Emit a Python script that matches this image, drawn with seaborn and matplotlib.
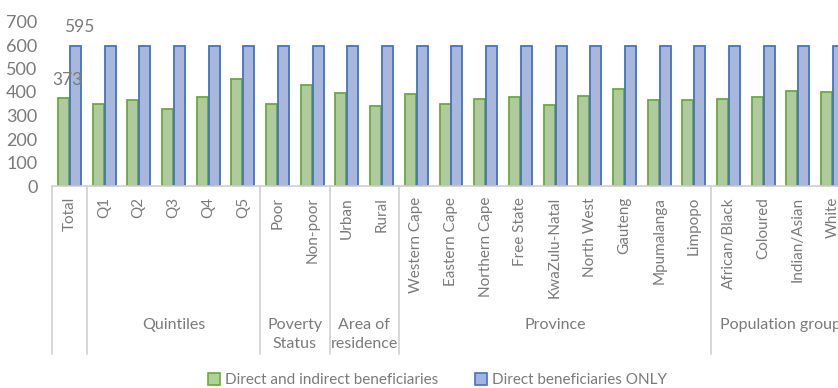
import matplotlib
matplotlib.use("Agg")
import matplotlib.pyplot as plt
import matplotlib.transforms as mtransforms
from matplotlib.patches import Patch
import seaborn as sns
import pandas as pd

categories = ["Total", "Q1", "Q2", "Q3", "Q4", "Q5", "Poor", "Non-poor",
              "Urban", "Rural", "Western Cape", "Eastern Cape", "Northern Cape",
              "Free State", "KwaZulu-Natal", "North West", "Gauteng",
              "Mpumalanga", "Limpopo", "African/Black", "Coloured",
              "Indian/Asian", "White"]
direct_indirect = [373, 349, 367, 326, 380, 457, 349, 430, 396, 340, 390, 349,
                   372, 380, 345, 383, 411, 365, 367, 372, 380, 403, 399]
direct_only = [595] * len(categories)
series_names = ["Direct and indirect beneficiaries", "Direct beneficiaries ONLY"]

# group name, first category index, number of categories
groups = [("", 0, 1), ("Quintiles", 1, 5), ("Poverty\nStatus", 6, 2),
          ("Area of\nresidence", 8, 2), ("Province", 10, 9),
          ("Population group", 19, 4)]

df = pd.DataFrame({
    "category": categories * 2,
    "value": direct_indirect + direct_only,
    "series": [series_names[0]] * len(categories) + [series_names[1]] * len(categories),
})

sns.set_theme(style="white")
plt.rcParams["font.family"] = ["Lato", "DejaVu Sans"]
text_grey = "#7a7a7a"
line_grey = "#d0d0d0"
green_fill, green_edge = "#add397", "#6aaa3c"
blue_fill, blue_edge = "#a1b4e2", "#4472c4"

fig = plt.figure(figsize=(8.38, 3.88), dpi=100)
ax = fig.add_axes([52 / 838, 1 - 186 / 388, 798 / 838, 164.5 / 388])

sns.barplot(data=df, x="category", y="value", hue="series", order=categories,
            hue_order=series_names, palette=[green_fill, blue_fill],
            width=0.69, gap=0.08, linewidth=1.3, ax=ax, legend=False)

# give each series its darker outline
n = len(categories)
for i, bar in enumerate(ax.patches[:2 * n]):
    bar.set_edgecolor(green_edge if i < n else blue_edge)

ax.set_xlim(-0.5, n - 0.5)
ax.set_ylim(0, 700)
ax.set_yticks(range(0, 701, 100))
ax.set_xlabel("")
ax.set_ylabel("")
for side in ("top", "right", "left"):
    ax.spines[side].set_visible(False)
ax.spines["bottom"].set_color(line_grey)
ax.spines["bottom"].set_linewidth(1.2)

ax.tick_params(axis="y", length=0, pad=10.5, labelsize=13, labelcolor=text_grey)
ax.tick_params(axis="x", length=0, pad=8, labelsize=11, labelcolor=text_grey)
plt.setp(ax.get_xticklabels(), rotation=90, ha="center", va="top")

# value labels on the Total category
ax.annotate(f"{direct_only[0]}", xy=(0.17, direct_only[0]), xytext=(3, 14),
            textcoords="offset points", ha="center", va="center",
            fontsize=12.5, color=text_grey)
ax.annotate(f"{direct_indirect[0]}", xy=(-0.17, direct_indirect[0]), xytext=(3, 13),
            textcoords="offset points", ha="center", va="center",
            fontsize=12.5, color=text_grey)

# grouped category axis: separators and group names
trans = mtransforms.blended_transform_factory(ax.transData, ax.transAxes)
for name, start, count in groups:
    left = start - 0.5
    ax.plot([left, left], [0, -1.02], transform=trans, color=line_grey,
            lw=1.2, clip_on=False)
    if name:
        ax.text(start + count / 2 - 0.5, -0.80, name, transform=trans,
                ha="center", va="top", fontsize=11.5, color=text_grey,
                linespacing=1.5)

handles = [Patch(facecolor=green_fill, edgecolor=green_edge, lw=1.2),
           Patch(facecolor=blue_fill, edgecolor=blue_edge, lw=1.2)]
fig.legend(handles, series_names, loc="center", bbox_to_anchor=(0.522, 1 - 380 / 388),
           ncol=2, frameon=False, fontsize=11, labelcolor=text_grey,
           handlelength=0.8, handleheight=0.8, handletextpad=0.3,
           columnspacing=2.4)

fig.savefig("out.png", dpi=100)
